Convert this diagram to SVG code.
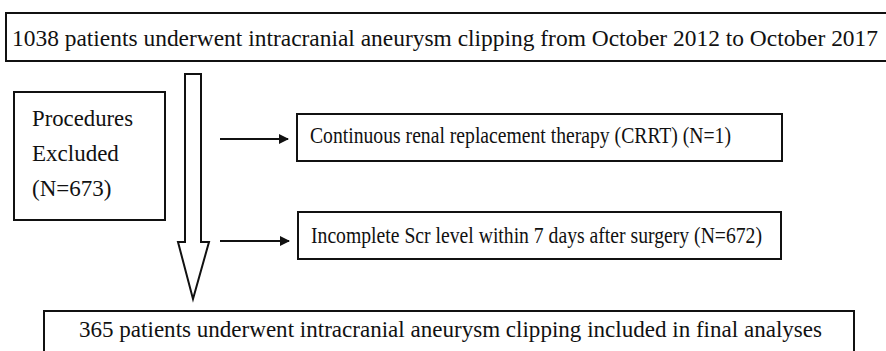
<svg xmlns="http://www.w3.org/2000/svg" width="886" height="351" viewBox="0 0 886 351">
<defs>
<style>
.box{fill:#fff;stroke:#111;stroke-width:2}
.t{font-family:"Liberation Serif","Times New Roman",serif;font-size:23px;fill:#111}
.conn{stroke:#111;stroke-width:2;fill:none}
</style>
<marker id="ah" viewBox="0 0 10 10" refX="9" refY="5" markerWidth="5" markerHeight="5" orient="auto" markerUnits="strokeWidth">
<path d="M0,0 L10,5 L0,10 Z" fill="#111"/>
</marker>
</defs>
<rect width="886" height="351" fill="#fff"/>
<g id="node-top">
<rect class="box" x="6" y="13" width="890" height="48"/>
<text class="t" x="12" y="46" textLength="866" lengthAdjust="spacingAndGlyphs">1038 patients underwent intracranial aneurysm clipping from October 2012 to October 2017</text>
</g>
<g id="node-excluded">
<rect class="box" x="14" y="92" width="151" height="128"/>
<text class="t" x="32" y="126" textLength="101" lengthAdjust="spacingAndGlyphs">Procedures</text>
<text class="t" x="32" y="161">Excluded</text>
<text class="t" x="32" y="196">(N=673)</text>
</g>
<g id="node-crrt">
<rect class="box" x="297" y="114" width="485" height="47"/>
<text class="t" x="310" y="143" textLength="421" lengthAdjust="spacingAndGlyphs">Continuous renal replacement therapy (CRRT) (N=1)</text>
</g>
<g id="node-scr">
<rect class="box" x="298" y="212" width="483" height="47"/>
<text class="t" x="311" y="243" textLength="451" lengthAdjust="spacingAndGlyphs">Incomplete Scr level within 7 days after surgery (N=672)</text>
</g>
<g id="node-final">
<rect class="box" x="44" y="311" width="810" height="60"/>
<text class="t" x="79" y="337" textLength="743" lengthAdjust="spacingAndGlyphs">365 patients underwent intracranial aneurysm clipping included in final analyses</text>
</g>
<g id="connectors">
<path class="conn" d="M185,74 L201,74 L201,242 L209,242 L193,299 L178,242 L185,242 Z" fill="#fff"/>
<line class="conn" x1="220" y1="139" x2="288" y2="139" marker-end="url(#ah)"/>
<line class="conn" x1="220" y1="241" x2="289" y2="241" marker-end="url(#ah)"/>
</g>
</svg>
